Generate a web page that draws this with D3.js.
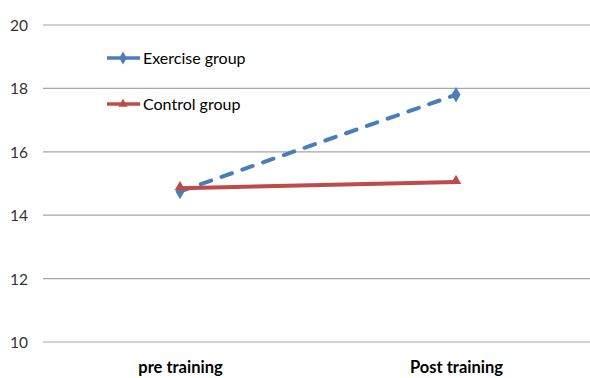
<!DOCTYPE html>
<html>
<head>
<meta charset="utf-8">
<script src="https://cdn.jsdelivr.net/npm/d3@7/dist/d3.min.js"></script>
<style>
  html, body { margin: 0; padding: 0; background: #fff; }
  svg { display: block; }
  text { font-family: Lato, "Open Sans", "Liberation Sans", sans-serif; }
</style>
</head>
<body>
<svg id="chart" width="590" height="378"></svg>
<script>
// Chart data
const categories = ["pre training", "Post training"];
const exerciseValues = [14.75, 17.8];
const controlValues = [14.85, 15.05];
const seriesNames = ["Exercise group", "Control group"];
const yTicks = [10, 12, 14, 16, 18, 20];

const svg = d3.select("#chart");
const W = 590;
const plotLeft = 43;

const y = d3.scaleLinear().domain([10, 20]).range([342, 25]);
const x = d3.scalePoint().domain(categories).range([180, 456]);

const blue = "#4A7EBB", red = "#BE4B48";

// Horizontal gridlines
svg.append("g")
  .selectAll("line")
  .data(yTicks)
  .join("line")
  .attr("x1", plotLeft).attr("x2", W)
  .attr("y1", d => y(d)).attr("y2", d => y(d))
  .attr("stroke", "#A6A6A6").attr("stroke-width", 1.2);

// Y axis labels
const yAxis = d3.axisLeft(y).tickValues(yTicks).tickSize(0).tickPadding(0);
const gy = svg.append("g").attr("transform", "translate(28,0)").call(yAxis);
gy.select(".domain").remove();
gy.selectAll("text")
  .attr("font-size", 15.5).attr("fill", "#333")
  .attr("font-family", "Lato, 'Open Sans', sans-serif")
  .attr("dy", "0.35em");

// X axis labels
const xAxis = d3.axisBottom(x).tickSize(0).tickPadding(0);
const gx = svg.append("g").attr("transform", "translate(0,373)").call(xAxis);
gx.select(".domain").remove();
gx.selectAll("text")
  .attr("font-size", 16.5).attr("font-weight", "bold").attr("fill", "#000")
  .attr("font-family", "Lato, 'Open Sans', sans-serif")
  .attr("dy", "0");

const line = d3.line().x((d, i) => x(categories[i])).y(d => y(d));

// Exercise group: dashed line
svg.append("path")
  .datum(exerciseValues)
  .attr("d", line)
  .attr("fill", "none").attr("stroke", blue).attr("stroke-width", 4)
  .attr("stroke-dasharray", "11,11").attr("stroke-linecap", "round");

// Control group: solid line
svg.append("path")
  .datum(controlValues)
  .attr("d", line)
  .attr("fill", "none").attr("stroke", red).attr("stroke-width", 4);

const diamond = d3.symbol().type(d3.symbolDiamond).size(70);
const triangle = d3.symbol().type(d3.symbolTriangle).size(50);

svg.append("g").selectAll("path")
  .data(exerciseValues)
  .join("path")
  .attr("d", diamond)
  .attr("transform", (d, i) => `translate(${x(categories[i])},${y(d)})`)
  .attr("fill", blue);

svg.append("g").selectAll("path")
  .data(controlValues)
  .join("path")
  .attr("d", triangle)
  .attr("transform", (d, i) => `translate(${x(categories[i])},${y(d) - 1})`)
  .attr("fill", red);

// Legend
const legendRows = [
  { name: seriesNames[0], color: blue, sym: diamond, yPos: 58 },
  { name: seriesNames[1], color: red, sym: triangle, yPos: 104 }
];
const lg = svg.append("g").selectAll("g").data(legendRows).join("g")
  .attr("transform", d => `translate(0,${d.yPos})`);
lg.append("line")
  .attr("x1", 107).attr("x2", 140).attr("y1", 0).attr("y2", 0)
  .attr("stroke", d => d.color).attr("stroke-width", 3.5);
lg.append("path")
  .attr("d", d => d.sym())
  .attr("transform", "translate(123,0) scale(0.85)")
  .attr("fill", d => d.color);
lg.append("text")
  .attr("x", 143).attr("y", 0).attr("dy", "0.35em")
  .attr("font-size", 16).attr("fill", "#000")
  .text(d => d.name);
</script>
</body>
</html>
